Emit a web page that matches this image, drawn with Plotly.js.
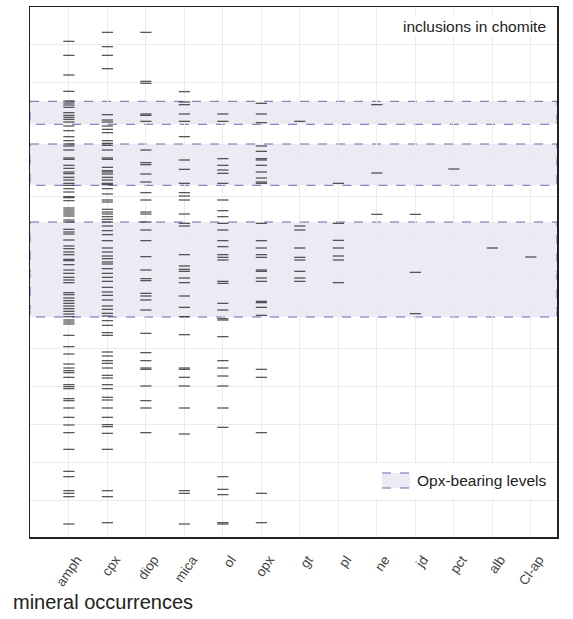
<!DOCTYPE html>
<html><head><meta charset="utf-8">
<script src="https://cdn.plot.ly/plotly-3.0.1.min.js"></script>
<style>html,body{margin:0;padding:0;background:#fff}#chart{width:573px;height:619px}</style>
</head><body><div id="chart"></div>
<script>
const minerals = ['amph','cpx','diop','mica','ol','opx','gt','pl','ne','jd','pct','alb','Cl-ap'];

// stratigraphic level of each inclusion occurrence (axis units, increasing downward)
const amph = [41.3,55.3,75,91.3,101,103,105,107.3,112.7,115.3,117.3,119.3,122,126,130.7,136.7,140.7,144,146,150,158,159.3,165.3,168.3,172,173.7,177.3,180,183.3,185.3,188.7,192,196.7,197.7,200.7,208,210,212,214,216,220,222,229.3,232,234,240,246,248.7,252,254.7,259.3,260.7,264.7,270,273.3,277.3,280,282.7,292.7,294.7,298,300.7,303.3,306,308.7,311.3,314,316.7,320,322,324,335.3,346.7,354,364,368,370.7,372.7,377.3,384.7,386.7,388.7,398.7,400.7,408,417.3,425,432.7,449.3,471.3,476.7,490.7,493.3,496.7,524];
const cpx = [32.3,46.7,55.3,68.7,114.7,120,122,126,129.3,132.7,140.7,143.3,145.3,150,158,159.3,167.3,170.7,172,174,177.3,180,183.3,184.7,188.7,194,200,202,209.3,212,214,216.7,219.3,222,226,230.7,234.7,240.7,248,252,256,258.7,262,264,268.7,273.3,277.3,281.3,287.3,292,295.3,300,306,309.3,313.3,316,320.7,325.3,332.7,335.3,352,356,360.7,363.3,368,375.3,378,384.7,388.7,397.3,400,408,417.3,424.7,426.7,433.3,449.3,490.7,496.7,522.7];
const diop = [32.3,81.3,83.3,114,115.3,121.3,150,162.7,164.7,174,182,192.7,200,212,214,222,230,240.7,256.7,270,278.7,280.7,293.3,296,300,310,333.3,352.7,360.7,368,369.3,386,400.7,408,432.7];
const mica = [91.7,102,104.7,114,121.3,136.7,160,169.3,183.3,192.7,196,200,214,223.3,226,254.7,266,269.3,271.3,278,282.7,296,307.3,316.7,334.7,368,369.3,377.3,386,408,434,490.7,493.3,524];
const ol = [114,121.3,158.7,165.3,170,173.3,183.3,200,210.7,216.7,223.3,230,240.7,246.7,254.7,257.3,260,281.3,283.3,303.3,310,318.7,320,336.7,360.7,368,376,386,408,427.3,476.7,489.3,494.7,522.7,524];
const opx = [103.3,114,122.7,146,151.3,158.7,160,165.3,172,178,182,183.3,223.3,240.7,248,254.7,257.3,270,271.3,278,281.3,301.3,302.7,307.3,315.3,369.3,377.3,432.7,493.3,522.7];
const gt = [121.3,226,230,248,257.3,260,271.3,278,281.3];
const pl = [183.3,223.3,240.3,248,256,260,282.7];
const ne = [104.7,173,214.3];
const jd = [214.3,272.3,313.7];
const pct = [169];
const alb = [248];
const clap = [257];

const series = [amph,cpx,diop,mica,ol,opx,gt,pl,ne,jd,pct,alb,clap];

// Opx-bearing levels: [top, bottom]
const bandTop = [101.3,144,222];
const bandBottom = [124.3,185.3,317];

const legendLabel = 'Opx-bearing levels';
const noteText = 'inclusions in chomite';
const xTitle = 'mineral occurrences';

const W = 573, H = 619, M = {l:30, r:16, t:7, b:82};
const PW = W - M.l - M.r, PH = H - M.t - M.b;
const px = v => (v - M.l) / PW;            // page x -> paper x
const py = v => (H - M.b - v) / PH;        // page y -> paper y

const bandFill = 'rgba(120,105,180,0.14)';
const bandLine = '#7464b4';

const traces = series.map((vals,i)=>({
  type:'scatter', mode:'markers',
  x: vals.map(()=>minerals[i]), y: vals,
  marker:{symbol:'line-ew', size:8, color:'#1a1a1a', line:{width:1.1, color:'#1a1a1a'}},
  opacity:0.85, showlegend:false, hoverinfo:'y'
}));

const shapes = bandTop.map((t,i)=>({
  type:'rect', xref:'paper', yref:'y', x0:0, x1:1, y0:t, y1:bandBottom[i],
  fillcolor:bandFill, layer:'below',
  line:{color:bandLine, width:1, dash:'dash'}
}));
// manual legend box
shapes.push({type:'rect', xref:'paper', yref:'paper', x0:px(374), x1:px(552), y0:py(463), y1:py(498),
  fillcolor:'#fff', line:{width:0}, layer:'above'});
shapes.push({type:'rect', xref:'paper', yref:'paper', x0:px(382), x1:px(410), y0:py(473), y1:py(488),
  fillcolor:bandFill, line:{width:0}, layer:'above'});
shapes.push({type:'line', xref:'paper', yref:'paper', x0:px(382), x1:px(410), y0:py(473), y1:py(473),
  line:{color:bandLine, width:1, dash:'dash'}, layer:'above'});
shapes.push({type:'line', xref:'paper', yref:'paper', x0:px(382), x1:px(410), y0:py(488), y1:py(488),
  line:{color:bandLine, width:1, dash:'dash'}, layer:'above'});

const font = "Liberation Sans, Arial, sans-serif";
const layout = {
  width:W, height:H,
  margin:M,
  paper_bgcolor:'#fff', plot_bgcolor:'#fff',
  font:{family:font, color:'#333', size:12},
  showlegend:false,
  xaxis:{type:'category', categoryorder:'array', categoryarray:minerals,
    range:[-1.01,12.68], showgrid:true, gridcolor:'#ebebeb', gridwidth:1,
    tickangle:-55, tickfont:{size:13.5, color:'#444'}, ticks:'',
    ticklabelstandoff:8, ticklabelshift:8,
    showline:true, mirror:true, linecolor:'#222', linewidth:1.5, zeroline:false},
  yaxis:{range:[537,7], tick0:44, dtick:38, showticklabels:false, ticks:'',
    showgrid:true, gridcolor:'#ebebeb', gridwidth:1, zeroline:false,
    showline:true, mirror:true, linecolor:'#222', linewidth:1.5},
  shapes: shapes,
  annotations:[
    {text:noteText, xref:'paper', yref:'paper', x:px(548), xanchor:'right', y:py(27), yanchor:'middle',
     showarrow:false, font:{size:15.5, color:'#222'}, bgcolor:'#fff'},
    {text:legendLabel, xref:'paper', yref:'paper', x:px(415), xanchor:'left', y:py(480), yanchor:'middle',
     showarrow:false, font:{size:15.5, color:'#222'}},
    {text:xTitle, xref:'paper', yref:'paper', x:px(11), xanchor:'left', y:py(602), yanchor:'middle',
     showarrow:false, font:{size:20, color:'#222'}}
  ]
};
Plotly.newPlot('chart', traces, layout, {displayModeBar:false, staticPlot:true});
</script></body></html>
